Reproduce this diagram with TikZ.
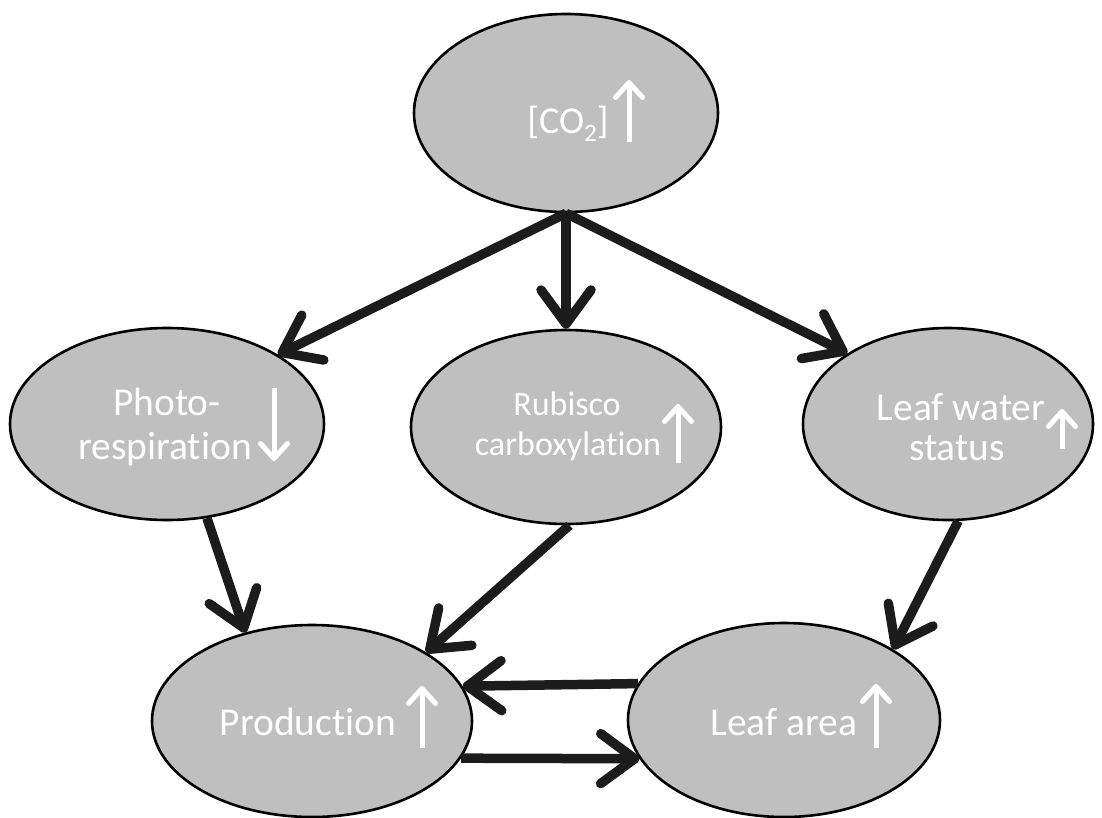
\documentclass[tikz,border=0pt]{standalone}
\usepackage{fontspec}
\setmainfont{Carlito}[Ligatures={NoCommon}]
\usetikzlibrary{arrows.meta,shapes.geometric}
\definecolor{ellfill}{RGB}{191,191,191}
\definecolor{arrc}{RGB}{28,28,28}
\tikzset{
  ell/.style={ellipse,draw=black,line width=2.6pt,fill=ellfill,inner sep=0pt},
  conn/.style={draw=arrc,line width=9.5pt,-{Straight Barb[length=34pt,width=50pt,round]}},
  warr/.style={draw=white,line width=5pt,-{Straight Barb[length=15pt,width=27pt,round]}},
  lbl/.style={text=white,inner sep=0pt,anchor=base,font=\fontsize{39.5}{40}\selectfont},
  slbl/.style={text=white,inner sep=0pt,anchor=base,font=\fontsize{34}{35}\selectfont}
}
\begin{document}
\begin{tikzpicture}[x=1pt,y=-1pt]
\useasboundingbox (0,0) rectangle (1102,817);
% ellipses
\node[ell,minimum width=304pt,minimum height=198pt] (co2) at (566,113) {};
\node[ell,minimum width=314pt,minimum height=192pt] (photo) at (167,424) {};
\node[ell,minimum width=310pt,minimum height=194pt] (rub) at (566,427) {};
\node[ell,minimum width=290pt,minimum height=192pt] (water) at (948,424) {};
\node[ell,minimum width=320pt,minimum height=192pt] (prod) at (312,721) {};
\node[ell,minimum width=312pt,minimum height=194pt] (area) at (784,720) {};
% labels
\node[lbl,font=\fontsize{38}{40}\selectfont] (tco2) at (568,133) {[CO\raisebox{-0.22em}{\fontsize{25}{25}\selectfont 2}]};
\node[lbl] (tphoto1) at (167,415) {Photo-};
\node[lbl] (tphoto2) at (165,459) {respiration};
\node[slbl] (trub1) at (567,415) {Rubisco};
\node[slbl] (trub2) at (568,455) {carboxylation};
\node[lbl] (twater1) at (961,420) {Leaf water};
\node[lbl] (twater2) at (957,460) {status};
\node[lbl] (tprod) at (308,735) {Production};
\node[lbl] (tarea) at (784,735) {Leaf area};
% white trend arrows
\coordinate (a1s) at (629,142); \coordinate (a1e) at (629,80);
\draw[warr] (a1s) -- (a1e);
\coordinate (a2s) at (274,388); \coordinate (a2e) at (274,461);
\draw[warr] (a2s) -- (a2e);
\coordinate (a3s) at (678,463); \coordinate (a3e) at (678,404);
\draw[warr] (a3s) -- (a3e);
\coordinate (a4s) at (1062,449); \coordinate (a4e) at (1062,409);
\draw[warr] (a4s) -- (a4e);
\coordinate (a5s) at (422,748); \coordinate (a5e) at (422,686);
\draw[warr] (a5s) -- (a5e);
\coordinate (a6s) at (876,748); \coordinate (a6e) at (876,684);
\draw[warr] (a6s) -- (a6e);
% connectors
\draw[conn] (co2.south) -- (photo.32);
\draw[conn] (co2.south) -- (rub.north);
\draw[conn] (co2.south) -- (water.145.7);
\draw[conn] (photo.-67) -- (prod.127);
\draw[conn] (rub.-88) -- (prod.31.4);
\draw[conn] (water.-84) -- (area.33.4);
\draw[conn] (area.166.5) -- (prod.13.7);
\draw[conn] (prod.-14.07) -- (area.-165.6);
\end{tikzpicture}
\end{document}
